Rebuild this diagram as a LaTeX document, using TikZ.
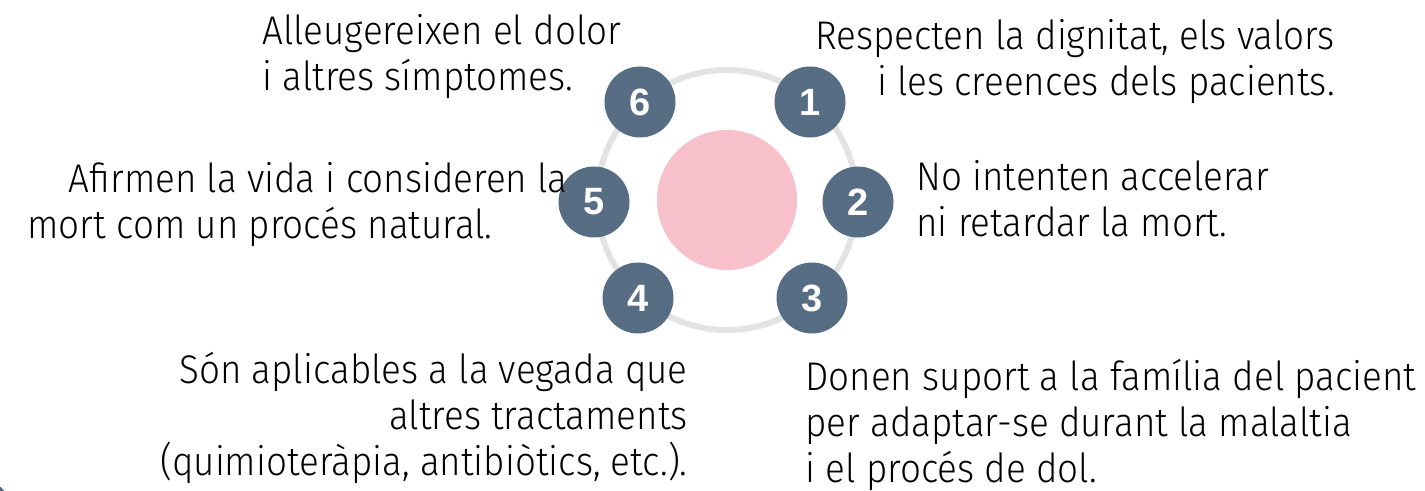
\documentclass[tikz,border=0pt]{standalone}
\usepackage{fontspec}
\setmainfont{Fira Sans Light}[FakeStretch=0.92]
\newfontfamily\numfont{Liberation Sans}
\usepackage{xcolor}
\usepackage{tikz}

\definecolor{ringgray}{HTML}{E3E3E3}
\definecolor{centrepink}{HTML}{F7C0CA}
\definecolor{slateblue}{HTML}{566D83}

\begin{document}
\begin{tikzpicture}[x=0.5pt, y=-0.5pt,
    numdot/.style={circle, fill=slateblue, minimum size=35.5pt, inner sep=0pt,
                   text=white, font=\numfont\bfseries\fontsize{19}{19}\selectfont},
    caption/.style={inner sep=0pt, font=\fontsize{20}{23}\selectfont}]
             \useasboundingbox (0, 0) rectangle (1425, 491);

             % corner mark
             \fill[slateblue] (-30, 520) circle (45);

             % ring and centre
             \draw[ringgray, line width=3pt] (727, 200) circle (130);
             \node[circle, fill=centrepink, minimum size=70pt, inner sep=0pt] (centre) at (727, 200) {};

             \node[numdot] (n1) at (810, 102) {1};
             \node[numdot] (n2) at (858, 202) {2};
             \node[numdot] (n3) at (812, 298) {3};
             \node[numdot] (n4) at (638, 298) {4};
             \node[numdot] (n5) at (594, 202) {5};
             \node[numdot] (n6) at (640, 102) {6};

             \node[caption, anchor=north west, align=left] (t6) at (262, 14)
                  {Alleugereixen el dolor\\i altres símptomes.};
             \node[caption, anchor=north east, align=right] (t1) at (1335, 19)
                  {Respecten la dignitat, els valors\\i les creences dels pacients.};
             \node[caption, anchor=north east, align=right] (t5) at (568, 162)
                  {Afirmen la vida i consideren la\\mort com un procés natural.\hspace*{37.5pt}};
             \node[caption, anchor=north west, align=left] (t2) at (916, 160)
                  {No intenten accelerar\\ni retardar la mort.};
             \node[caption, anchor=north east, align=right] (t4) at (688, 352)
                  {Són aplicables a la vegada que\\altres tractaments\\(quimioteràpia, antibiòtics, etc.).};
             \node[caption, anchor=north west, align=left] (t3) at (805, 359)
                  {Donen suport a la família del pacient\\per adaptar-se durant la malaltia\\i el procés de dol.};
             \end{tikzpicture}
\end{document}
